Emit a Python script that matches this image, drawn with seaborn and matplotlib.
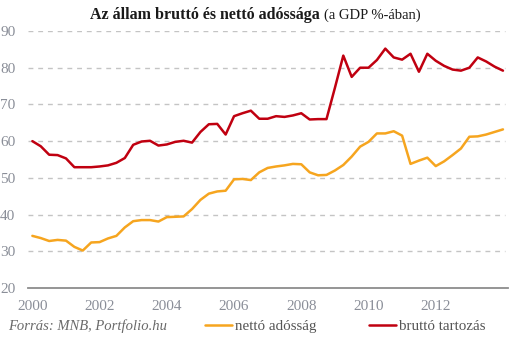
import numpy as np
import pandas as pd
import matplotlib
matplotlib.use("Agg")
import matplotlib.pyplot as plt
import seaborn as sns

# Quarterly observation dates, 2000 Q1 .. 2014 Q1
quarters = np.arange(2000.0, 2014.01, 0.25)

# Net debt, % of GDP
netto = [34.2, 33.6, 32.8, 33.1, 32.9, 31.2, 30.2, 32.4,
         32.5, 33.5, 34.2, 36.5, 38.2, 38.5, 38.5, 38.1,
         39.3, 39.4, 39.5, 41.5, 44.0, 45.7, 46.3, 46.5,
         49.6, 49.7, 49.4, 51.5, 52.7, 53.1, 53.4, 53.8,
         53.7, 51.5, 50.7, 50.8, 52.0, 53.5, 55.8, 58.5,
         59.8, 62.1, 62.1, 62.7, 61.5, 53.8, 54.7, 55.5,
         53.2, 54.5, 56.2, 58.0, 61.2, 61.3, 61.8, 62.5,
         63.2]

# Gross debt, % of GDP
brutto = [60.0, 58.6, 56.3, 56.2, 55.3, 52.9, 52.9, 52.9,
          53.1, 53.4, 54.1, 55.4, 59.0, 59.9, 60.1, 58.8,
          59.1, 59.8, 60.1, 59.6, 62.5, 64.6, 64.7, 61.8,
          66.8, 67.6, 68.3, 66.1, 66.1, 66.8, 66.6, 67.0,
          67.6, 65.9, 66.0, 66.0, 74.5, 83.3, 77.5, 80.0,
          80.0, 82.1, 85.2, 82.8, 82.2, 83.8, 78.9, 83.8,
          81.9, 80.5, 79.5, 79.2, 80.0, 82.8, 81.7, 80.3,
          79.2]

series_names = ["nettó adósság", "bruttó tartozás"]
series_colors = ["#F6A51F", "#C00010"]
year_ticks = [2000, 2002, 2004, 2006, 2008, 2010, 2012]
value_ticks = [20, 30, 40, 50, 60, 70, 80, 90]

df = pd.concat([
    pd.DataFrame({"ev": quarters, "ertek": netto, "sorozat": series_names[0]}),
    pd.DataFrame({"ev": quarters, "ertek": brutto, "sorozat": series_names[1]}),
], ignore_index=True)

sns.set_style("white")
plt.rcParams["font.family"] = ["Liberation Serif", "DejaVu Serif"]

W, H = 530, 344
fig = plt.figure(figsize=(W / 100, H / 100), dpi=100)
ax = fig.add_axes([28 / W, 56 / H, 480 / W, 257 / H])

sns.lineplot(data=df, x="ev", y="ertek", hue="sorozat",
             palette=dict(zip(series_names, series_colors)),
             linewidth=1.8, ax=ax, legend=False)

ax.set_xlim(1999.87, 2014.15)
ax.set_ylim(20, 90)
ax.set_xticks(year_ticks)
ax.set_yticks(value_ticks)
ax.set_xlabel("")
ax.set_ylabel("")

# dashed horizontal grid, solid baseline
for v in value_ticks[1:]:
    ax.axhline(v, xmax=(505 - 28) / 480, color="#c4c4c4", lw=1.0,
               ls=(0, (3.5, 3.5)), zorder=0)
for s in ["top", "right", "left"]:
    ax.spines[s].set_visible(False)
ax.spines["bottom"].set_color("#8c8c8c")
ax.spines["bottom"].set_linewidth(1.3)

ax.tick_params(axis="both", length=0, labelsize=11, labelcolor="#8a8e98")
ax.tick_params(axis="y", pad=9)
ax.tick_params(axis="x", pad=9)

# title: bold part followed by regular part, centred as a whole
ty = 1 - 15 / H
t1 = fig.text(0, ty, "Az állam bruttó és nettó adóssága",
              fontsize=11.5, fontweight="bold", color="#1a1a1a",
              ha="left", va="center")
t2 = fig.text(0, ty, "(a GDP %-ában)",
              fontsize=10.5, color="#1a1a1a", ha="left", va="center")
fig.canvas.draw()
w1 = t1.get_window_extent().width
w2 = t2.get_window_extent().width
gap = 4
x0 = 255 - (w1 + gap + w2) / 2
t1.set_x(x0 / W)
t2.set_x((x0 + w1 + gap) / W)

# source note
fig.text(8 / W, 1 - 326 / H, "Forrás: MNB, Portfolio.hu", fontsize=10.5,
         style="italic", color="#6a6a6a", ha="left", va="center")

# legend
handles = ax.get_lines()[:2]
leg = fig.legend(handles, series_names, loc="center left",
                 bbox_to_anchor=(205 / W, 1 - 326 / H), ncol=2,
                 frameon=False, fontsize=10.8, handlelength=1.8,
                 handletextpad=0.2, columnspacing=3.5, borderpad=0,
                 borderaxespad=0)
for txt in leg.get_texts():
    txt.set_color("#555555")

fig.savefig("out.png", dpi=100)
